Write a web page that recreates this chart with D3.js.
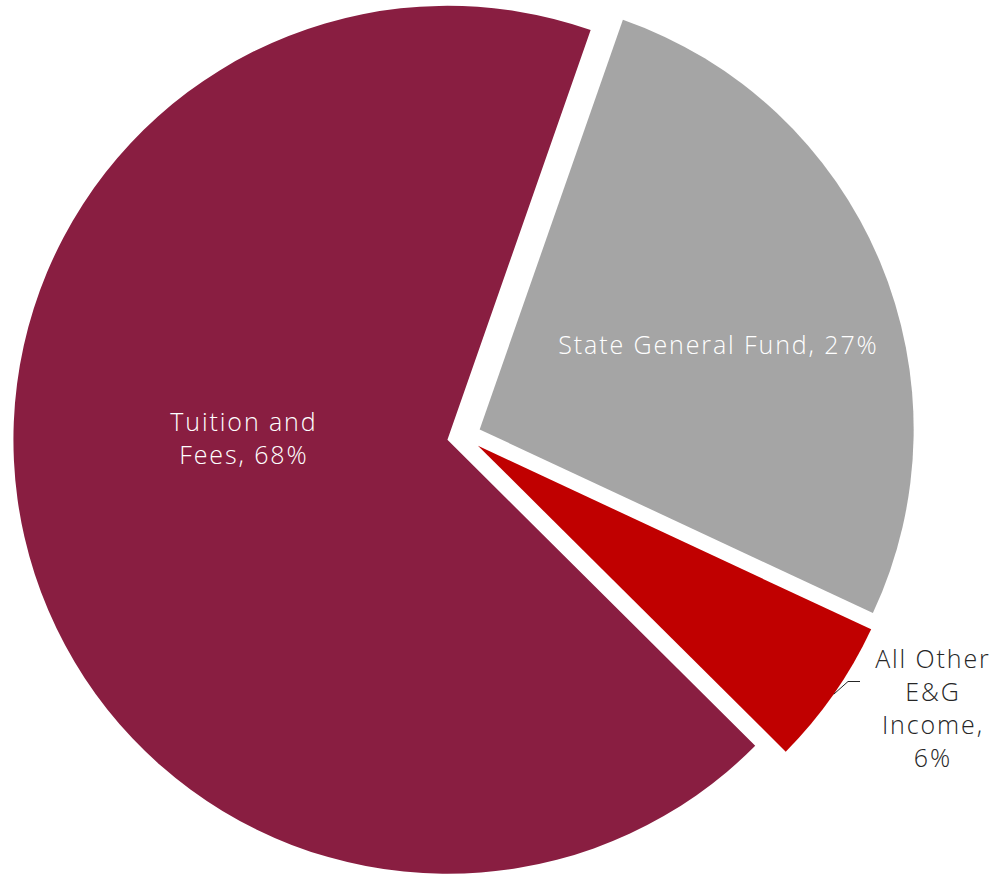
<!DOCTYPE html>
<html>
<head>
<meta charset="utf-8">
<script src="https://cdn.jsdelivr.net/npm/d3@7"></script>
<style>
  html, body { margin: 0; padding: 0; background: #ffffff; }
  svg { display: block; }
  text { font-family: "Open Sans", "Noto Sans", sans-serif; font-weight: 300; }
</style>
</head>
<body>
<svg id="chart" width="999" height="874"></svg>
<script>
// ---- data ----
const categories = ["State General Fund", "All Other E&G Income", "Tuition and Fees"];
const values = [26.6, 5.5, 67.9];
const percentLabels = ["27%", "6%", "68%"];
const colors = ["#A5A5A5", "#C00000", "#891E41"];
// label lines (as shown on chart)
const labelLines = [
  ["State General Fund, 27%"],
  ["All Other", "E&G", "Income,", "6%"],
  ["Tuition and", "Fees, 68%"]
];

// ---- layout ----
const W = 999, H = 874;
const cx = 464, cy = 436;
const radius = 434;
const explode = 17;
const startDeg = 19.27;
const labelPos = [ // text block centre x, first baseline y, line spacing
  {x: 717.5, y: 354, dy: 33, fill: "#ffffff"},
  {x: 932, y: 667.5, dy: 33, fill: "#262626"},
  {x: 243, y: 431, dy: 33, fill: "#ffffff"}
];

const svg = d3.select("#chart");
const g = svg.append("g").attr("transform", `translate(${cx},${cy})`);

const start = startDeg * Math.PI / 180;
const pie = d3.pie().sort(null).startAngle(start).endAngle(start + 2 * Math.PI);
const arcs = pie(values);
const arcGen = d3.arc().innerRadius(0).outerRadius(radius);

function offset(d) {
  const a = (d.startAngle + d.endAngle) / 2;
  return [Math.sin(a) * explode, -Math.cos(a) * explode];
}

g.selectAll("path.slice")
  .data(arcs)
  .join("path")
  .attr("class", "slice")
  .attr("d", arcGen)
  .attr("fill", (d, i) => colors[i])
  .attr("transform", d => { const o = offset(d); return `translate(${o[0]},${o[1]})`; });

// leader line for the small slice
{
  const d = arcs[1];
  const o = offset(d);
  const a = (d.startAngle + d.endAngle) / 2;
  const p0 = [o[0] + Math.sin(a) * radius, o[1] - Math.cos(a) * radius];
  const lp = labelPos[1];
  const yElbow = lp.y + 14 - cy;
  const xEnd = 860 - cx;
  const p1 = [xEnd - 12, yElbow];
  const p2 = [xEnd, yElbow];
  g.append("path")
    .attr("d", d3.line()([p0, p1, p2]))
    .attr("fill", "none")
    .attr("stroke", "#262626")
    .attr("stroke-width", 1);
}

// labels
labelLines.forEach((lines, i) => {
  const lp = labelPos[i];
  lines.forEach((ln, j) => {
    svg.append("text")
      .attr("text-anchor", "middle")
      .attr("fill", lp.fill)
      .attr("font-size", 25)
      .attr("letter-spacing", 1.9)
      .attr("x", lp.x + 0.95)
      .attr("y", lp.y + j * lp.dy)
      .text(ln);
  });
});
</script>
</body>
</html>
